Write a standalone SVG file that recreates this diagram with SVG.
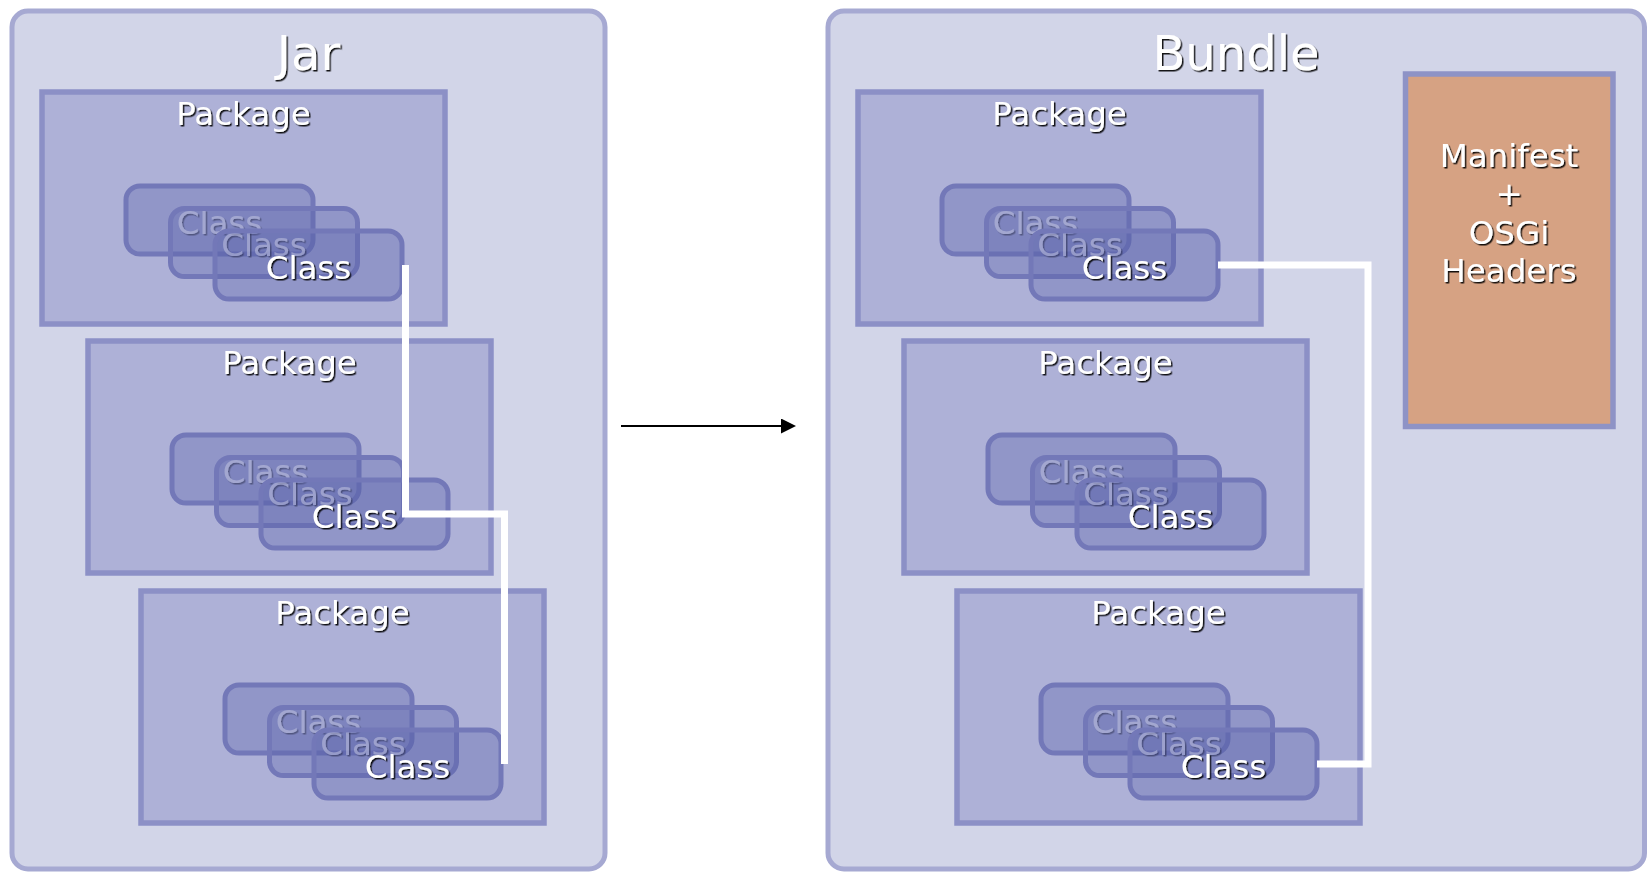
<svg xmlns="http://www.w3.org/2000/svg" width="1652" height="872" viewBox="0 0 1652 872">
<style>
.outer{fill:#d2d5e8;stroke:#a6a9d2;stroke-width:5}
.pkg{fill:#aeb1d7;stroke:#8c90c6;stroke-width:5.5}
.cls{fill:#5860aa;fill-opacity:0.33;stroke:#7378b8;stroke-width:5}
.man{fill:#d6a283;stroke:#8e93c6;stroke-width:5.5}
text{font-family:"DejaVu Sans","Liberation Sans",sans-serif;fill:#fff;text-anchor:middle;filter:url(#sh)}
.title{font-size:48px}
.lbl{font-size:32.5px}
.back{opacity:0.5}
.conn{fill:none;stroke:#fff;stroke-width:7}
.arrow{stroke:#000;stroke-width:2;fill:none}
</style>
<defs>
<filter id="sh" x="-10%" y="-20%" width="130%" height="150%">
<feDropShadow dx="1.5" dy="1.5" stdDeviation="0.4" flood-color="#000" flood-opacity="0.9"/>
</filter>
<marker id="ah" markerUnits="userSpaceOnUse" markerWidth="16" markerHeight="16" refX="8" refY="7.5" orient="auto">
<path d="M0,0 L15,7.5 L0,15 z" fill="#000"/>
</marker>
</defs>
<rect width="1652" height="872" fill="#fff"/>

<g id="jar">
<rect class="outer" x="12" y="11" width="593" height="858" rx="16"/>
<text class="title" x="308.5" y="70">Jar</text>
</g>
<g id="jar-pkg1">
<rect class="pkg" x="42" y="92" width="403" height="232"/>
<text class="lbl" x="243.5" y="125">Package</text>
<g id="jar-pkg1-c1"><rect class="cls" x="126" y="186" width="187" height="68" rx="14"/><text class="lbl back" x="219.5" y="233.5">Class</text></g>
<g id="jar-pkg1-c2"><rect class="cls" x="170.5" y="208.5" width="187" height="68" rx="14"/><text class="lbl back" x="264" y="256">Class</text></g>
<g id="jar-pkg1-c3"><rect class="cls" x="215" y="231" width="187" height="68" rx="14"/><text class="lbl" x="308.5" y="278.5">Class</text></g>
</g>
<g id="jar-pkg2">
<rect class="pkg" x="88" y="341" width="403" height="232"/>
<text class="lbl" x="289.5" y="374">Package</text>
<g id="jar-pkg2-c1"><rect class="cls" x="172" y="435" width="187" height="68" rx="14"/><text class="lbl back" x="265.5" y="482.5">Class</text></g>
<g id="jar-pkg2-c2"><rect class="cls" x="216.5" y="457.5" width="187" height="68" rx="14"/><text class="lbl back" x="310" y="505">Class</text></g>
<g id="jar-pkg2-c3"><rect class="cls" x="261" y="480" width="187" height="68" rx="14"/><text class="lbl" x="354.5" y="527.5">Class</text></g>
</g>
<g id="jar-pkg3">
<rect class="pkg" x="141" y="591" width="403" height="232"/>
<text class="lbl" x="342.5" y="624">Package</text>
<g id="jar-pkg3-c1"><rect class="cls" x="225" y="685" width="187" height="68" rx="14"/><text class="lbl back" x="318.5" y="732.5">Class</text></g>
<g id="jar-pkg3-c2"><rect class="cls" x="269.5" y="707.5" width="187" height="68" rx="14"/><text class="lbl back" x="363" y="755">Class</text></g>
<g id="jar-pkg3-c3"><rect class="cls" x="314" y="730" width="187" height="68" rx="14"/><text class="lbl" x="407.5" y="777.5">Class</text></g>
</g>

<g id="bundle">
<rect class="outer" x="828" y="11" width="816.5" height="858" rx="16"/>
<text class="title" x="1236" y="70">Bundle</text>
</g>
<g id="manifest">
<rect class="man" x="1405.5" y="74" width="207.5" height="352.5"/>
<text class="lbl" x="1509" y="166.5">Manifest</text>
<text class="lbl" x="1509" y="205">+</text>
<text class="lbl" x="1509" y="244">OSGi</text>
<text class="lbl" x="1509" y="282">Headers</text>
</g>
<g id="bundle-pkg1">
<rect class="pkg" x="858" y="92" width="403" height="232"/>
<text class="lbl" x="1059.5" y="125">Package</text>
<g id="bundle-pkg1-c1"><rect class="cls" x="942" y="186" width="187" height="68" rx="14"/><text class="lbl back" x="1035.5" y="233.5">Class</text></g>
<g id="bundle-pkg1-c2"><rect class="cls" x="986.5" y="208.5" width="187" height="68" rx="14"/><text class="lbl back" x="1080" y="256">Class</text></g>
<g id="bundle-pkg1-c3"><rect class="cls" x="1031" y="231" width="187" height="68" rx="14"/><text class="lbl" x="1124.5" y="278.5">Class</text></g>
</g>
<g id="bundle-pkg2">
<rect class="pkg" x="904" y="341" width="403" height="232"/>
<text class="lbl" x="1105.5" y="374">Package</text>
<g id="bundle-pkg2-c1"><rect class="cls" x="988" y="435" width="187" height="68" rx="14"/><text class="lbl back" x="1081.5" y="482.5">Class</text></g>
<g id="bundle-pkg2-c2"><rect class="cls" x="1032.5" y="457.5" width="187" height="68" rx="14"/><text class="lbl back" x="1126" y="505">Class</text></g>
<g id="bundle-pkg2-c3"><rect class="cls" x="1077" y="480" width="187" height="68" rx="14"/><text class="lbl" x="1170.5" y="527.5">Class</text></g>
</g>
<g id="bundle-pkg3">
<rect class="pkg" x="957" y="591" width="403" height="232"/>
<text class="lbl" x="1158.5" y="624">Package</text>
<g id="bundle-pkg3-c1"><rect class="cls" x="1041" y="685" width="187" height="68" rx="14"/><text class="lbl back" x="1134.5" y="732.5">Class</text></g>
<g id="bundle-pkg3-c2"><rect class="cls" x="1085.5" y="707.5" width="187" height="68" rx="14"/><text class="lbl back" x="1179" y="755">Class</text></g>
<g id="bundle-pkg3-c3"><rect class="cls" x="1130" y="730" width="187" height="68" rx="14"/><text class="lbl" x="1223.5" y="777.5">Class</text></g>
</g>

<g id="connectors">
<path class="conn" d="M405.5,265 V514 H504.5 V764"/>
<path class="conn" d="M1218,265 H1368 V764 H1317"/>
<line class="arrow" x1="621" y1="426" x2="789" y2="426" marker-end="url(#ah)"/>
</g>
</svg>
